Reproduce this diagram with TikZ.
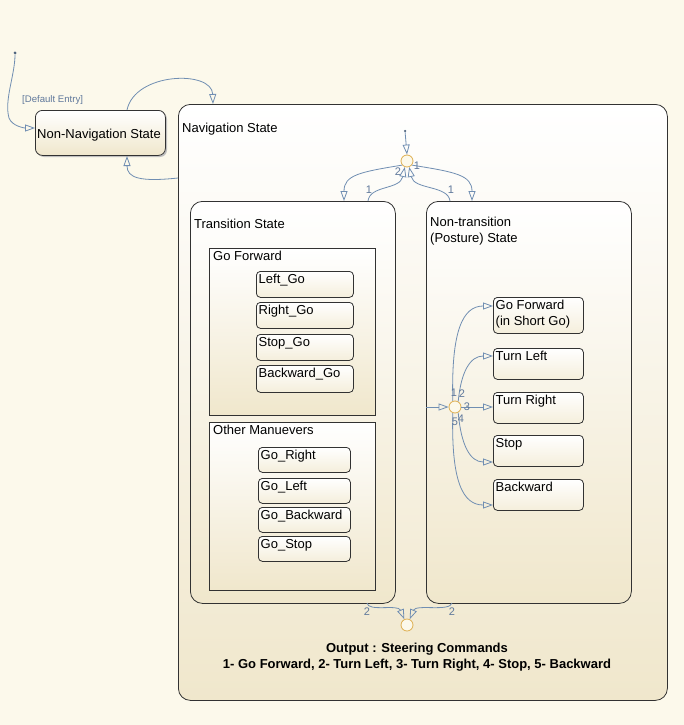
\documentclass[tikz,border=0pt]{standalone}
\usepackage{fontspec}
\setmainfont{Liberation Sans}
\usetikzlibrary{arrows.meta,calc}
\definecolor{bgc}{RGB}{252,249,235}
\definecolor{stbot}{RGB}{240,231,204}
\definecolor{conn}{RGB}{112,142,178}
\definecolor{lbl}{RGB}{95,120,155}
\definecolor{junc}{RGB}{222,175,80}
\definecolor{edge}{RGB}{50,50,50}
\newcommand\mkbox[7]{%
  \node[#7, minimum width=#4, minimum height=#5] (#1) at (#2,#3) {};
  \node[boxtxt] (#1t) at (#1.north west) {#6};}
\begin{document}
\begin{tikzpicture}[x=1pt,y=-1pt,
  txt/.style={font=\fontsize{13}{15}\selectfont, inner sep=0pt},
  boxtxt/.style={txt, anchor=north west, inner xsep=2.5pt, inner ysep=3pt, align=left},
  bigst/.style={draw=edge, line width=0.8pt, rounded corners=12pt, anchor=north west, inner sep=0pt, top color=white, bottom color=stbot},
  grp/.style={draw=edge, line width=0.8pt, anchor=north west, inner sep=0pt, top color=white, bottom color=stbot},
  smst/.style={draw=edge, line width=0.8pt, rounded corners=4pt, anchor=north west, inner sep=0pt, top color=white, bottom color=stbot!70!white},
  conn/.style={draw=conn, line width=0.8pt, -{Triangle[open,length=10pt,width=7pt]}},
  jn/.style={circle, draw=junc, line width=0.8pt, fill=bgc, minimum size=12pt, inner sep=0pt},
  num/.style={font=\fontsize{11}{12}\selectfont, text=lbl, inner sep=0pt},
  dot/.style={circle, fill=conn!70!black, minimum size=3pt, inner sep=0pt}
]
\fill[bgc] (0,0) rectangle (684,725);
\useasboundingbox (0,0) rectangle (684,725);

% Navigation state
\node[bigst, minimum width=489pt, minimum height=596pt] (nav) at (178,104) {};
\node[txt, anchor=west] (navt) at (182,129) {Navigation State};

% Non-navigation state
\fill[black!25, rounded corners=7pt] (37,112) rectangle (167,157);
\node[smst, rounded corners=7pt, minimum width=130pt, minimum height=45pt, top color=white, bottom color=stbot] (nonnav) at (35,110) {};
\node[txt] (nonnavt) at (99,135) {Non-Navigation State};

% default entry
\node[dot] (d0) at (15,53) {};
\coordinate (nn1) at (35,128);
\draw[conn] (d0) .. controls (15,75) and (4,100) .. (9,118) .. controls (12,126) and (24,128) .. (nn1);
\node[font=\fontsize{9.6}{11}\selectfont, text=lbl, anchor=west, inner sep=0pt] (deflbl) at (22,100) {[Default Entry]};

\coordinate (nnTop) at (127,110);
\coordinate (navTop) at (213,104);
\draw[conn] (nnTop) .. controls (135,72) and (212,70) .. (navTop);
\coordinate (navLeft) at (178,178);
\coordinate (nnBot) at (127,156);
\draw[conn] (navLeft) .. controls (140,182) and (127,178) .. (nnBot);

% Transition state
\node[bigst, minimum width=205pt, minimum height=402pt] (trans) at (190,201) {};
\node[txt, anchor=west] (transt) at (194,224) {Transition State};

\node[grp, minimum width=166pt, minimum height=167pt] (gofwd) at (209,248) {};
\node[txt, anchor=west] (gofwdt) at (213,256) {Go Forward};
\mkbox{leftgo}{256}{271}{97pt}{26pt}{Left\_Go}{smst}
\mkbox{rightgo}{256}{302}{97pt}{26pt}{Right\_Go}{smst}
\mkbox{stopgo}{256}{334}{97pt}{26pt}{Stop\_Go}{smst}
\mkbox{backgo}{256}{365}{97pt}{27pt}{Backward\_Go}{smst}

\node[grp, minimum width=166pt, minimum height=168pt] (other) at (209,422) {};
\node[txt, anchor=west] (othert) at (213,430) {Other Manuevers};
\mkbox{goright}{258}{447}{92pt}{25pt}{Go\_Right}{smst}
\mkbox{goleft}{258}{478}{92pt}{25pt}{Go\_Left}{smst}
\mkbox{goback}{258}{507}{92pt}{25pt}{Go\_Backward}{smst}
\mkbox{gostop}{258}{536}{92pt}{25pt}{Go\_Stop}{smst}

% Non-transition state
\node[bigst, minimum width=205pt, minimum height=402pt] (post) at (426,201) {};
\node[txt, anchor=north west, align=left] (postt) at (430,217) {Non-transition\\[1pt](Posture) State};

\mkbox{pfwd}{493}{297}{90pt}{36pt}{Go Forward\\[1pt](in Short Go)}{smst}
\mkbox{pleft}{493}{348}{90pt}{31pt}{Turn Left}{smst}
\mkbox{pright}{493}{392}{90pt}{31pt}{Turn Right}{smst}
\mkbox{pstop}{493}{435}{90pt}{31pt}{Stop}{smst}
\mkbox{pback}{493}{479}{90pt}{31pt}{Backward}{smst}

% top junction
\node[jn] (j1) at (407,161) {};
\node[dot, minimum size=2.5pt] (d1) at (405,131) {};
\draw[conn] (d1) -- (j1.north);
\coordinate (transTop) at (344,201);
\coordinate (postTop) at (472,201);
\coordinate (transTop2) at (368,201);
\coordinate (postTop2) at (450,201);
\draw[conn] (j1.220) .. controls (360,172) and (344,175) .. (transTop);
\draw[conn] (j1.320) .. controls (455,172) and (472,175) .. (postTop);
\draw[conn] (transTop2) .. controls (370,185) and (400,190) .. (j1.250);
\draw[conn] (postTop2) .. controls (448,185) and (414,190) .. (j1.290);
\node[num] (n2a) at (398,172) {2};
\node[num] (n1a) at (417,166) {1};
\node[num] (n1b) at (369,190) {1};
\node[num] (n1c) at (451,190) {1};

% posture junction
\node[jn] (j2) at (455,407) {};
\coordinate (postLeft) at (426,407);
\draw[conn] (postLeft) -- (j2.west);
\coordinate (a1) at (493,306);
\coordinate (a2) at (493,356);
\coordinate (a3) at (493,407);
\coordinate (a4) at (493,462);
\coordinate (a5) at (493,505);
\draw[conn] (j2.110) .. controls (451,330) and (463,306) .. (a1);
\draw[conn] (j2.60) .. controls (461,372) and (470,356) .. (a2);
\draw[conn] (j2.east) -- (a3);
\draw[conn] (j2.-60) .. controls (461,445) and (470,462) .. (a4);
\draw[conn] (j2.-110) .. controls (451,482) and (463,505) .. (a5);
\node[num] (m1) at (454,393) {1};
\node[num] (m2) at (462,394) {2};
\node[num] (m3) at (467,407) {3};
\node[num] (m4) at (461,419) {4};
\node[num] (m5) at (455,422) {5};

% bottom junction
\node[jn] (j3) at (407,625) {};
\coordinate (transBot) at (367,603);
\coordinate (postBot) at (452,603);
\draw[conn] (transBot) .. controls (368,612) and (398,604) .. (j3.115);
\draw[conn] (postBot) .. controls (450,612) and (416,604) .. (j3.65);
\node[num] (b1) at (367,612) {2};
\node[num] (b2) at (452,612) {2};

\node[font=\bfseries\fontsize{13}{15}\selectfont, inner sep=0pt] (out1) at (417,649) {Output :  Steering Commands};
\node[font=\bfseries\fontsize{13}{15}\selectfont, inner sep=0pt] (out2) at (417,665) {1- Go Forward, 2- Turn Left, 3- Turn Right, 4- Stop, 5- Backward};
\end{tikzpicture}
\end{document}
